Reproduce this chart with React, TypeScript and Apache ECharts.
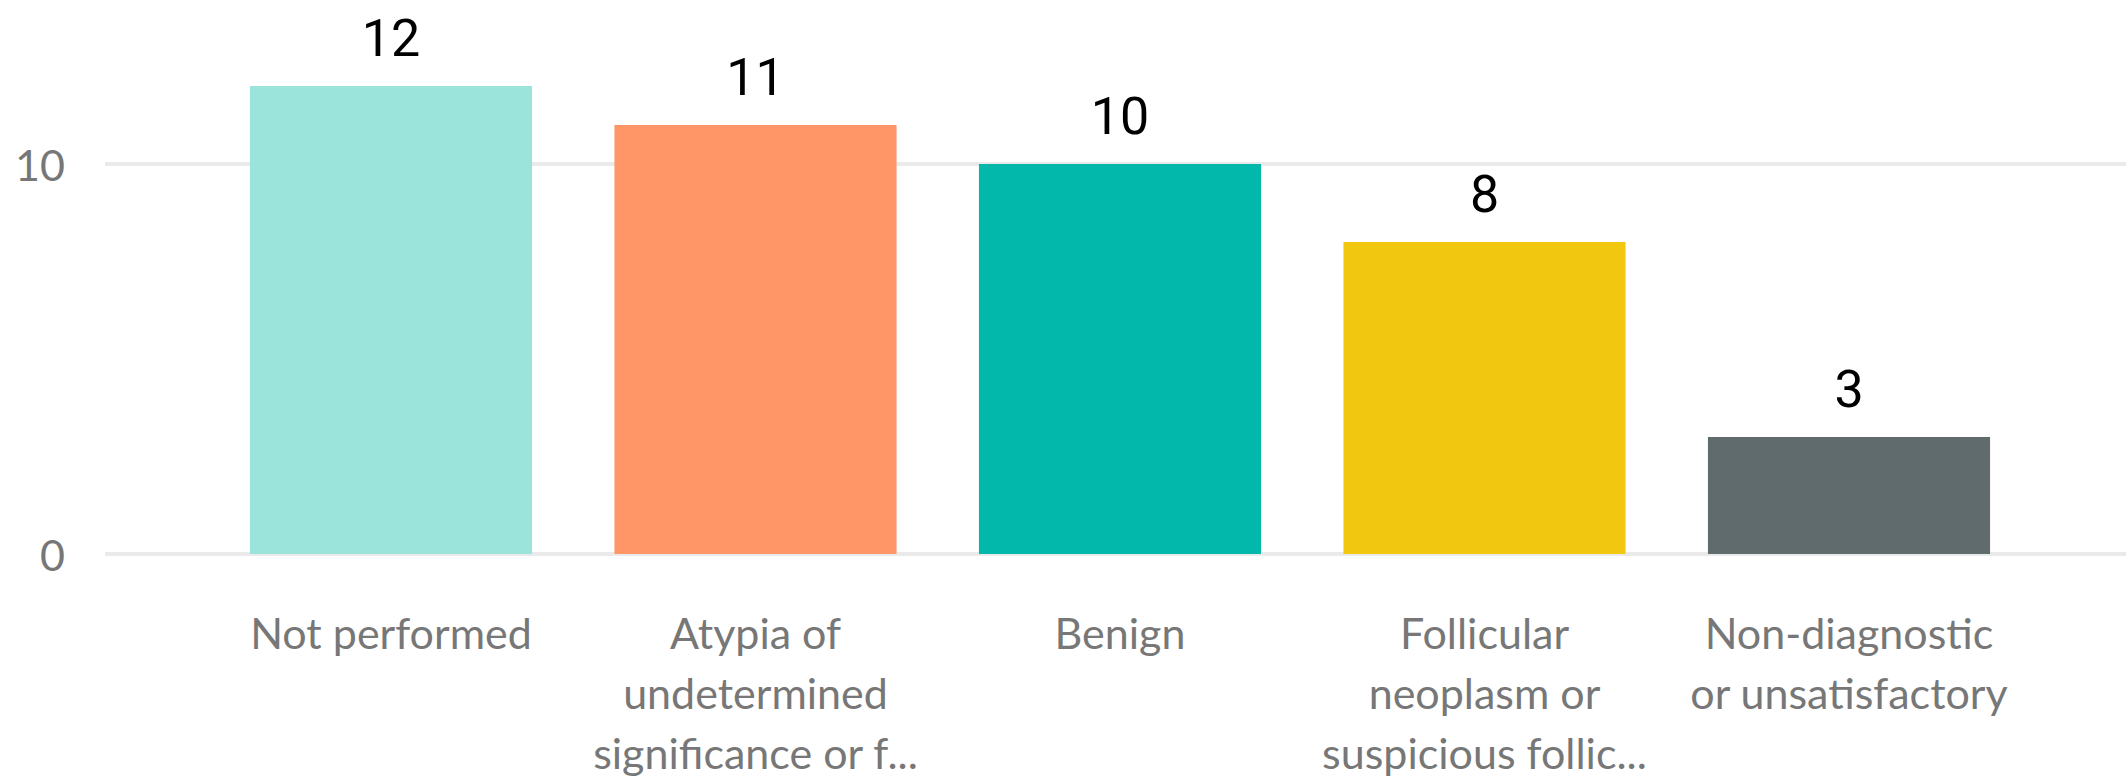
import React, { useEffect, useRef } from "react";
import * as echarts from "echarts";

const categories = [
  "Not performed",
  "Atypia of\nundetermined\nsignificance or f...",
  "Benign",
  "Follicular\nneoplasm or\nsuspicious follic...",
  "Non-diagnostic\nor unsatisfactory",
];
const values = [12, 11, 10, 8, 3];
const barColors = ["#9BE4DC", "#FE9668", "#02B8AB", "#F1C80F", "#5F6B6D"];
const yTicks = [0, 10];

export default function App() {
  const ref = useRef<HTMLDivElement>(null);
  useEffect(() => {
    if (!ref.current) return;
    const chart = echarts.init(ref.current, null, { renderer: "svg" });
    chart.setOption({
      animation: false,
      backgroundColor: "#ffffff",
      grid: [
        { left: 105, right: 0, top: 164, bottom: 228 },
        { left: 208.75, right: 94.75, top: 8, bottom: 228 },
      ],
      xAxis: [
        { gridIndex: 0, type: "value", min: 0, max: 1, show: false },
        {
          gridIndex: 1,
          type: "category",
          data: categories,
          axisLine: { show: false },
          axisTick: { show: false },
          splitLine: { show: false },
          axisLabel: {
            interval: 0,
            color: "#777777",
            fontFamily: "Lato, 'Open Sans', sans-serif",
            fontSize: 43,
            lineHeight: 60,
            margin: 48,
            verticalAlign: "top",
          },
        },
      ],
      yAxis: [
        {
          gridIndex: 0,
          type: "value",
          min: yTicks[0],
          max: yTicks[yTicks.length - 1],
          interval: 10,
          axisLine: { show: false },
          axisTick: { show: false },
          splitLine: { show: true, lineStyle: { color: "#EAEAEA", width: 4 } },
          axisLabel: {
            color: "#777777",
            fontFamily: "Lato, 'Open Sans', sans-serif",
            fontSize: 43,
            margin: 40,
          },
        },
        { gridIndex: 1, type: "value", min: 0, max: 14, show: false },
      ],
      series: [
        {
          type: "bar",
          xAxisIndex: 1,
          yAxisIndex: 1,
          barCategoryGap: "22.6%",
          data: values.map((v, i) => ({ value: v, itemStyle: { color: barColors[i] } })),
          label: {
            show: true,
            position: "top",
            distance: 22,
            color: "#000000",
            fontFamily: "'Liberation Sans Narrow', Roboto, sans-serif",
            fontSize: 52,
          },
        },
      ],
    });
    return () => chart.dispose();
  }, []);
  return (
    <div
      ref={ref}
      style={{ position: "absolute", left: 0, top: 0, width: 2126, height: 782 }}
    />
  );
}
